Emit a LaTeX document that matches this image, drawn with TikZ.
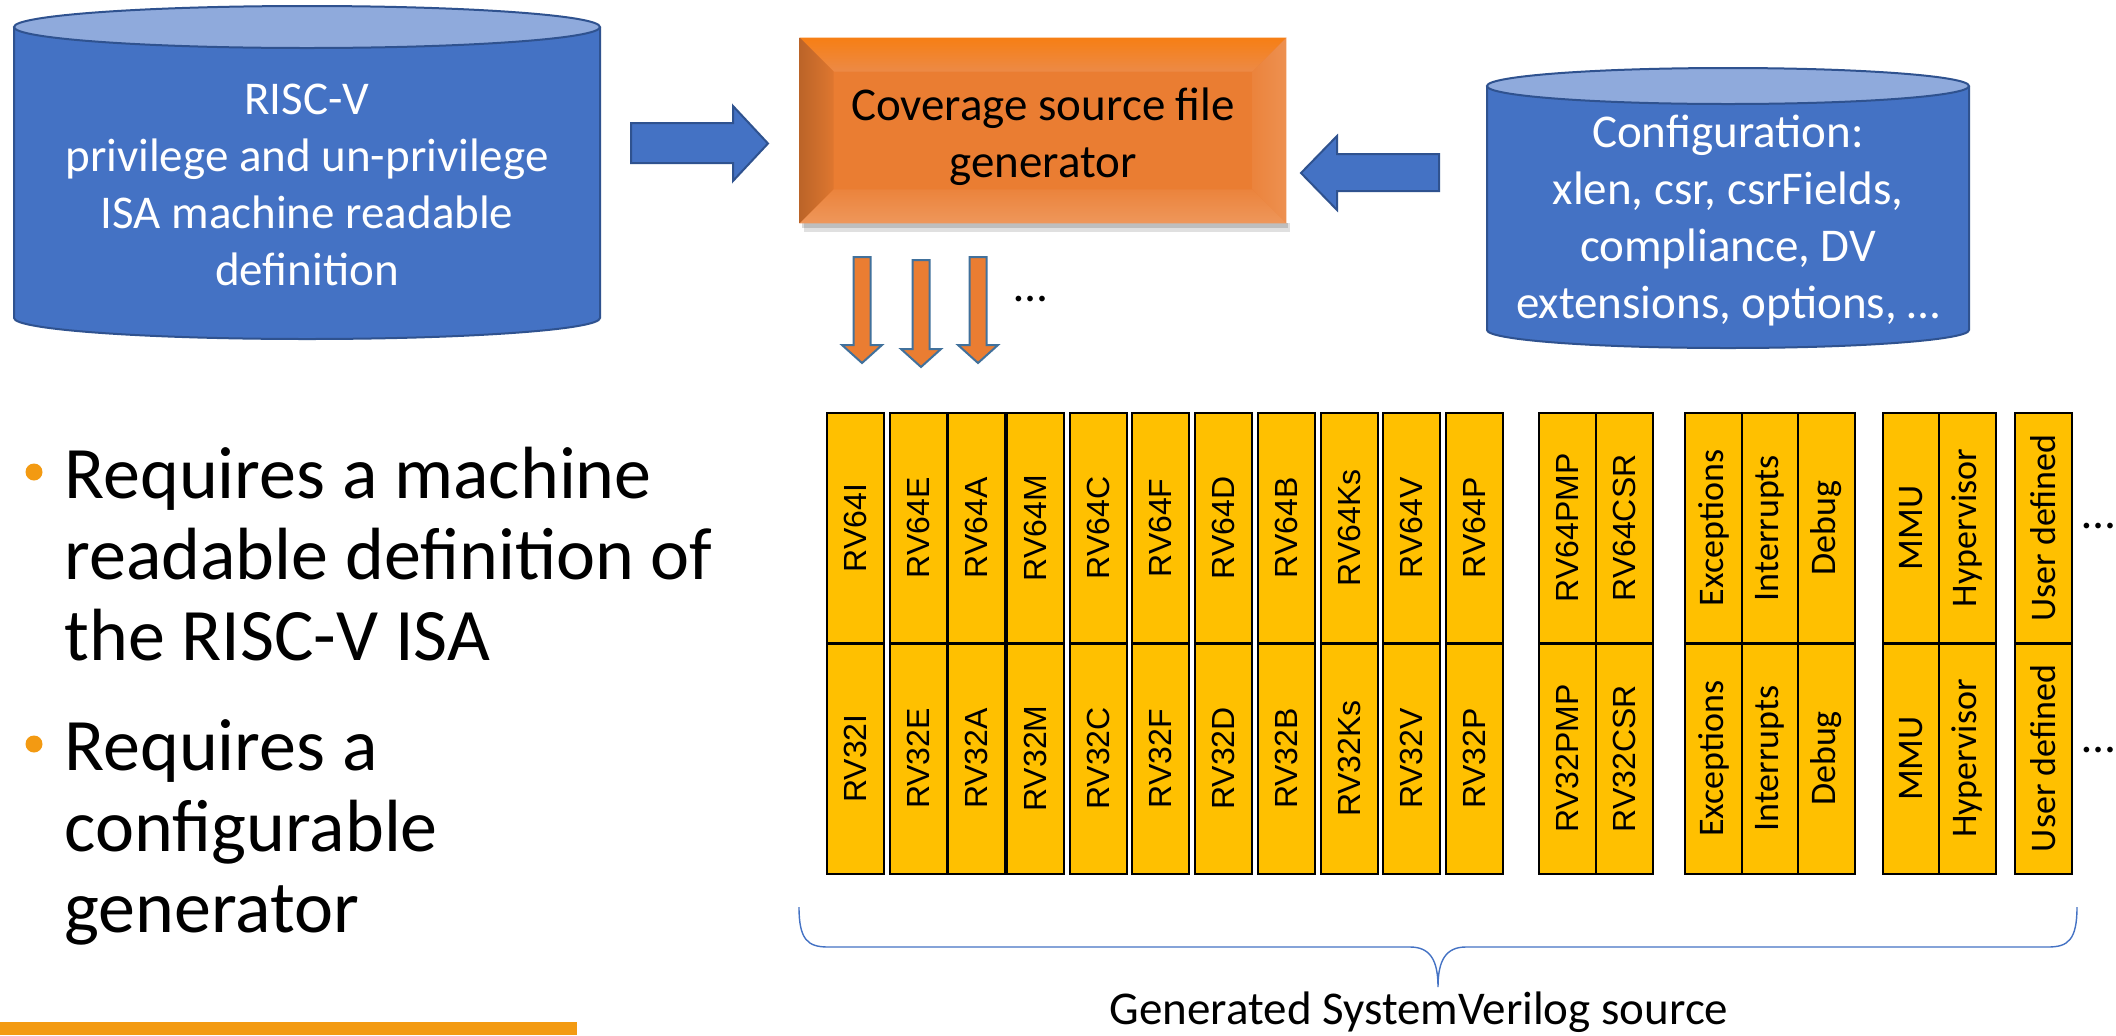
\documentclass[tikz,border=0pt]{standalone}
\usepackage{fontspec}
\setmainfont{Carlito}
\newfontfamily\arialfont{Liberation Sans}
\usetikzlibrary{positioning, calc}

\definecolor{cylblue}{HTML}{4472C4}
\definecolor{cyltop}{HTML}{8FAADC}
\definecolor{cyledge}{HTML}{2F528F}
\definecolor{arrowedge}{HTML}{41719C}
\definecolor{gold}{HTML}{FFC000}
\definecolor{genorange}{HTML}{EA7D32}
\definecolor{barorange}{HTML}{F39A12}

\tikzset{
  bigtxt/.style={font=\fontsize{23.5}{28.5}\selectfont, align=center, inner sep=0pt},
  bullettxt/.style={font=\fontsize{37}{40.5}\selectfont, align=left, inner sep=0pt, anchor=north west},
  blk/.style={draw=black, line width=1pt, fill=gold, rotate=90, inner sep=0pt,
    minimum width=115pt, minimum height=28.5pt},
  rvlbl/.style={font=\arialfont\fontsize{16}{19}\selectfont},
  ctlbl/.style={font=\fontsize{18}{21}\selectfont},
  bluearrow/.style={fill=cylblue, draw=cyledge, line width=1pt},
  downarrow/.style={fill=genorange, draw=arrowedge, line width=1pt},
  svbrace/.style={draw=cylblue, line width=0.7pt},
}

\begin{document}
\begin{tikzpicture}[x=0.5pt, y=-0.5pt]
  \useasboundingbox (0,0) rectangle (2116,1035);
  \fill[white] (0,0) rectangle (2116,1035);

  % ISA definition cylinder
  \fill[cylblue] (14,27) -- (14,318) arc[start angle=180, end angle=0, x radius=293, y radius=21] -- (600,27) -- cycle;
  \draw[cyledge, line width=1pt] (14,27) -- (14,318) arc[start angle=180, end angle=0, x radius=293, y radius=21] -- (600,27);
  \filldraw[fill=cyltop, draw=cyledge, line width=1pt] (307,27) ellipse[x radius=293, y radius=21];
  \node[bigtxt, text=white] (isa) at (307,185) {RISC-V\\privilege and un-privilege\\ISA machine readable\\definition};

  % configuration cylinder
  \fill[cylblue] (1487,86) -- (1487,330) arc[start angle=180, end angle=0, x radius=241, y radius=18] -- (1969,86) -- cycle;
  \draw[cyledge, line width=1pt] (1487,86) -- (1487,330) arc[start angle=180, end angle=0, x radius=241, y radius=18] -- (1969,86);
  \filldraw[fill=cyltop, draw=cyledge, line width=1pt] (1728,86) ellipse[x radius=241, y radius=18];
  \node[bigtxt, text=white] (cfg) at (1728,221) {Configuration:\\xlen, csr, csrFields,\\compliance, DV\\extensions, options, …};

  % generator box with bevel
  \fill[black, opacity=0.12] (804,223) rectangle (1290,232);
  \fill[black, opacity=0.15] (802,223) rectangle (1288,228);
  \node[fill=genorange, inner sep=0pt, minimum width=243pt, minimum height=92.5pt] (gen) at (1043,130.5) {};
  \shade[top color=orange!60!genorange, bottom color=genorange!90!white] (gen.north west) -- (gen.north east)
    -- ($(gen.north east)+(-34,34)$) -- ($(gen.north west)+(34,34)$) -- cycle;
  \shade[left color=genorange!80!black, right color=genorange!95!black] (gen.north west) -- ($(gen.north west)+(34,34)$)
    -- ($(gen.south west)+(34,-34)$) -- (gen.south west) -- cycle;
  \shade[left color=genorange!95!white, right color=genorange!85!white] (gen.north east) -- ($(gen.north east)+(-34,34)$)
    -- ($(gen.south east)+(-34,-34)$) -- (gen.south east) -- cycle;
  \shade[top color=genorange!95!white, bottom color=genorange!80!white] (gen.south west) -- ($(gen.south west)+(34,-34)$)
    -- ($(gen.south east)+(-34,-34)$) -- (gen.south east) -- cycle;
  \node[bigtxt] (gentxt) at ($(gen.center)+(0,6)$) {Coverage source file\\generator};

  % block arrows into the generator
  \filldraw[bluearrow] (631,123) -- (733,123) -- (733,106) -- (768,143.5) -- (733,181) -- (733,163) -- (631,163) -- cycle;
  \filldraw[bluearrow] (1439,154) -- (1337,154) -- (1337,136) -- (1301,173) -- (1337,210) -- (1337,191) -- (1439,191) -- cycle;

  % arrows out of the generator
  \foreach \x/\t/\e in {862/257/363, 921/260/367, 978/257/363}{
    \filldraw[downarrow] (\x-8.5,\t) -- (\x+8.5,\t) -- (\x+8.5,\e-18) -- (\x+20,\e-18)
      -- (\x,\e) -- (\x-20,\e-18) -- (\x-8.5,\e-18) -- cycle;
  }
  \node[bigtxt] (moreA) at (1031,299) {…};

  % generated blocks, 64 bit on top and 32 bit below
  \foreach \x/\u/\l [count=\i] in {855/RV64I/RV32I, 918/RV64E/RV32E, 976/RV64A/RV32A, 1035/RV64M/RV32M,
      1098/RV64C/RV32C, 1160/RV64F/RV32F, 1223/RV64D/RV32D, 1286/RV64B/RV32B, 1349/RV64Ks/RV32Ks,
      1411/RV64V/RV32V, 1474/RV64P/RV32P, 1567/RV64PMP/RV32PMP, 1624/RV64CSR/RV32CSR}{
    \node[blk, rvlbl] (hi\i) at (\x,528) {\u};
    \node[blk, rvlbl] (lo\i) at (\x,758.5) {\l};
  }
  \foreach \x/\t [count=\i] in {1713.5/Exceptions, 1770/Interrupts, 1826/Debug,
      1911/MMU, 1967/Hypervisor, 2043/User defined}{
    \node[blk, ctlbl] (hx\i) at (\x,528) {\t};
    \node[blk, ctlbl] (lx\i) at (\x,758.5) {\t};
  }
  \node[bigtxt] (moreB) at (2099,526) {…};
  \node[bigtxt] (moreC) at (2099,750) {…};

  % brace and label
  \draw[svbrace] (799,907) .. controls (799,940) and (808,947) .. (828,947) -- (1410,947)
    .. controls (1430,947) and (1438,960) .. (1438,987) .. controls (1438,960) and (1446,947) .. (1466,947)
    -- (2048,947) .. controls (2068,947) and (2077,940) .. (2077,907);
  \node[bigtxt, anchor=base] (gensv) at (1419,1024) {Generated SystemVerilog source};

  % bullets
  \fill[barorange] (34,472) circle (8.5);
  \fill[barorange] (34,744) circle (8.5);
  \node[bullettxt] (req1) at (64,447) {Requires a machine\\readable definition of\\the RISC-V ISA};
  \node[bullettxt] (req2) at (64,719) {Requires a\\configurable\\generator};

  \fill[barorange] (0,1022) rectangle (577,1035);
\end{tikzpicture}
\end{document}
